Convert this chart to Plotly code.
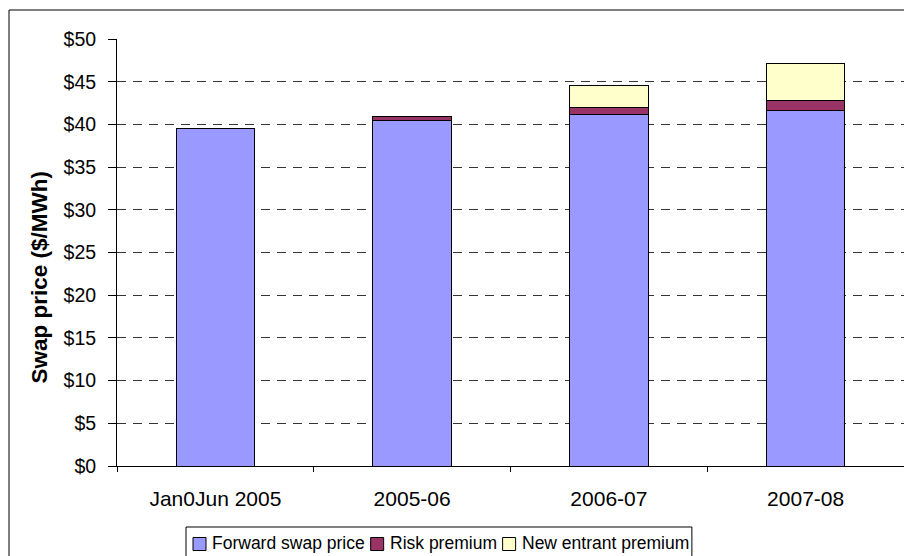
import plotly.graph_objects as go

# Swap price components by period ($/MWh)
periods = ["Jan0Jun 2005", "2005-06", "2006-07", "2007-08"]
forward_swap = [39.5, 40.5, 41.2, 41.65]
risk_premium = [0.0, 0.45, 0.8, 1.1]
new_entrant = [0.0, 0.0, 2.55, 4.4]

y_ticks = list(range(0, 51, 5))
y_tick_labels = [f"${v}" for v in y_ticks]
y_title = "Swap price ($/MWh)"

series_names = ["Forward swap price", "Risk premium", "New entrant premium"]
series_values = [forward_swap, risk_premium, new_entrant]
series_colors = ["#9999FF", "#993366", "#FFFFCC"]

fig = go.Figure()
for name, vals, color in zip(series_names, series_values, series_colors):
    fig.add_trace(go.Bar(
        x=periods, y=vals, name=name,
        marker=dict(color=color, line=dict(color="#000000", width=1)),
        width=0.4, showlegend=False,
    ))

W, H = 904, 556
L, R, T, B = 117, 0, 39, 90
pw, ph = W - L - R, H - T - B
FONT = "Liberation Sans, Arial, sans-serif"


def px_x(x):
    return (x - L) / pw


def px_y(y):
    return (T + ph - y) / ph


shapes = [
    # outer chart border
    dict(type="rect", xref="paper", yref="paper",
         x0=px_x(9), x1=px_x(W + 5), y0=px_y(H + 5), y1=px_y(10),
         line=dict(color="#000000", width=1), fillcolor="rgba(0,0,0,0)", layer="below"),
]
annotations = [
    # vertical axis title
    dict(text=f"<b>{y_title}</b>", xref="paper", yref="paper",
         x=px_x(38.5), y=px_y(277), xanchor="center", yanchor="middle",
         textangle=-90, showarrow=False,
         font=dict(family=FONT, size=22.5, color="#000000")),
]

# Compact boxed legend below the plot
leg_font = 17.5
leg_left, leg_top, leg_bottom = 186, 527, 557
sq = 13

# Arial advance widths (em) for the legend labels
adv = {" ": .278, "F": .611, "o": .556, "r": .333, "w": .722, "a": .556, "d": .556,
       "s": .5, "p": .556, "i": .222, "c": .5, "e": .556, "R": .722, "k": .5,
       "m": .833, "u": .556, "N": .722, "n": .556, "t": .278}


def text_w(s):
    return sum(adv.get(ch, .556) for ch in s) * leg_font


x = leg_left + 7
yc = 544
for name, color in zip(series_names, series_colors):
    shapes.append(dict(
        type="rect", xref="paper", yref="paper",
        x0=px_x(x), x1=px_x(x + sq), y0=px_y(yc + sq / 2), y1=px_y(yc - sq / 2),
        line=dict(color="#000000", width=1), fillcolor=color,
    ))
    x += sq + 4
    annotations.append(dict(
        text=name, xref="paper", yref="paper", x=px_x(x), y=px_y(yc - 1),
        xanchor="left", yanchor="middle", showarrow=False,
        font=dict(family=FONT, size=leg_font, color="#000000"),
    ))
    x += text_w(name) + 8
leg_right = x - 3
shapes.append(dict(
    type="rect", xref="paper", yref="paper",
    x0=px_x(leg_left), x1=px_x(leg_right), y0=px_y(leg_bottom), y1=px_y(leg_top),
    line=dict(color="#000000", width=1), fillcolor="rgba(0,0,0,0)",
))

fig.update_layout(
    width=W, height=H,
    barmode="stack",
    paper_bgcolor="white", plot_bgcolor="white",
    margin=dict(l=L, r=R, t=T, b=B, pad=0, autoexpand=False),
    font=dict(family=FONT, size=17, color="#000000"),
    showlegend=False,
    xaxis=dict(
        type="category",
        showline=True, linecolor="#000000", linewidth=1,
        ticks="outside", ticklen=5, tickcolor="#000000",
        tickson="boundaries",
        tickfont=dict(size=21),
        ticklabelstandoff=14,
    ),
    yaxis=dict(
        range=[0, 50],
        tickvals=y_ticks, ticktext=y_tick_labels,
        showline=True, linecolor="#000000", linewidth=1,
        ticks="outside", ticklen=8, tickcolor="#000000",
        showgrid=True, gridcolor="#333333", gridwidth=1, griddash="9px,7px",
        zeroline=False,
        tickfont=dict(size=19.5),
        ticklabelstandoff=8,
    ),
    shapes=shapes,
    annotations=annotations,
)

fig.write_html("out.html")
